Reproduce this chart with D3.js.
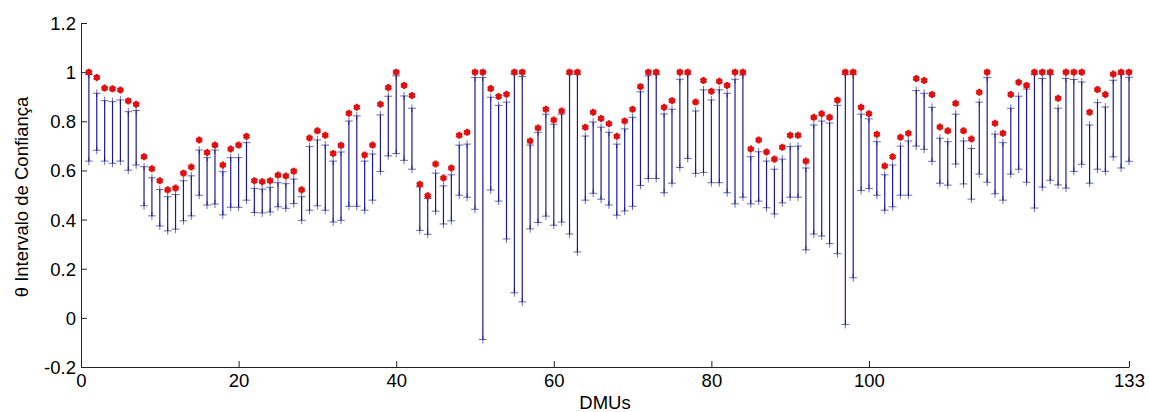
<!DOCTYPE html>
<html>
<head>
<meta charset="utf-8">
<script src="https://cdn.jsdelivr.net/npm/d3@7"></script>
<style>
  body { margin: 0; background: #fff; }
  svg text { font-family: Arial, "Liberation Sans", sans-serif; fill: #000; }
</style>
</head>
<body>
<div id="chart-area"></div>
<script>
// eficiencia (asterisco vermelho) e intervalo de confianca (azul), DMU 1..133
var theta = [1.0,0.978,0.935,0.932,0.927,0.883,0.869,0.656,0.607,0.558,
  0.521,0.528,0.589,0.614,0.724,0.673,0.703,0.622,0.687,0.703,
  0.739,0.558,0.554,0.558,0.581,0.577,0.597,0.521,0.732,0.761,
  0.743,0.669,0.702,0.833,0.857,0.663,0.703,0.869,0.937,1.0,
  0.946,0.905,0.544,0.497,0.626,0.569,0.610,0.743,0.755,1.0,
  1.0,0.933,0.901,0.910,1.0,1.0,0.720,0.773,0.849,0.805,
  0.842,1.0,1.0,0.776,0.837,0.811,0.790,0.739,0.801,0.849,
  0.941,1.0,1.0,0.857,0.884,1.0,1.0,0.878,0.966,0.922,
  0.963,0.946,1.0,1.0,0.687,0.724,0.675,0.646,0.694,0.743,
  0.743,0.638,0.816,0.831,0.816,0.886,1.0,1.0,0.857,0.831,
  0.747,0.618,0.656,0.735,0.751,0.974,0.966,0.909,0.777,0.761,
  0.873,0.761,0.728,0.918,1.0,0.792,0.751,0.909,0.959,0.946,
  1.0,1.0,1.0,0.894,1.0,1.0,1.0,0.837,0.929,0.909,
  0.992,1.0,1.0];

var upper = [0.990,0.914,0.884,0.880,0.887,0.839,0.844,0.615,0.570,0.522,
  0.493,0.502,0.558,0.578,0.683,0.652,0.683,0.595,0.652,0.652,
  0.713,0.527,0.524,0.531,0.550,0.546,0.565,0.493,0.697,0.724,
  0.703,0.638,0.675,0.801,0.822,0.638,0.667,0.826,0.902,0.985,
  0.903,0.853,0.533,0.486,0.589,0.537,0.582,0.703,0.707,0.978,
  0.978,0.898,0.865,0.878,0.992,0.982,0.703,0.755,0.829,0.788,
  0.829,0.992,0.990,0.740,0.797,0.776,0.755,0.707,0.769,0.816,
  0.920,0.985,0.990,0.830,0.849,0.971,0.990,0.842,0.928,0.887,
  0.928,0.914,0.971,0.988,0.656,0.676,0.638,0.605,0.646,0.697,
  0.699,0.610,0.785,0.801,0.793,0.865,0.990,0.990,0.829,0.810,
  0.717,0.582,0.622,0.699,0.720,0.925,0.914,0.857,0.731,0.717,
  0.829,0.720,0.689,0.878,0.978,0.748,0.713,0.853,0.902,0.931,
  0.990,0.974,0.990,0.853,0.974,0.970,0.960,0.785,0.876,0.858,
  0.967,0.990,0.979];

var lower = [0.638,0.682,0.638,0.629,0.638,0.601,0.622,0.456,0.415,0.374,
  0.354,0.361,0.395,0.415,0.499,0.459,0.463,0.419,0.450,0.450,
  0.479,0.429,0.427,0.431,0.452,0.446,0.465,0.397,0.438,0.456,
  0.438,0.390,0.397,0.454,0.454,0.438,0.479,0.596,0.659,0.669,
  0.641,0.605,0.356,0.340,0.434,0.382,0.395,0.499,0.491,0.442,
  -0.088,0.520,0.475,0.321,0.102,0.065,0.362,0.388,0.414,0.377,
  0.390,0.341,0.268,0.479,0.507,0.483,0.459,0.418,0.435,0.454,
  0.539,0.567,0.567,0.509,0.548,0.612,0.649,0.588,0.592,0.550,
  0.550,0.509,0.464,0.491,0.464,0.475,0.448,0.423,0.468,0.491,
  0.491,0.277,0.341,0.333,0.302,0.261,-0.027,0.163,0.518,0.526,
  0.499,0.438,0.452,0.499,0.499,0.699,0.686,0.637,0.548,0.540,
  0.626,0.545,0.483,0.585,0.552,0.505,0.479,0.585,0.605,0.552,
  0.447,0.532,0.560,0.541,0.528,0.596,0.625,0.548,0.605,0.596,
  0.655,0.610,0.637];

var xTicks = [0, 20, 40, 60, 80, 100, 133];
var yTicks = [-0.2, 0, 0.2, 0.4, 0.6, 0.8, 1, 1.2];

const widthinput = 1149;
const heightinput = 412;

var margin = { top: 23, right: 20, bottom: 45, left: 81 };
var width = widthinput - margin.left - margin.right,
    height = heightinput - margin.top - margin.bottom;

var svg = d3.select("#chart-area")
  .append("svg")
    .attr("width", widthinput)
    .attr("height", heightinput);

var g = svg.append("g")
    .attr("transform", "translate(" + margin.left + ", " + margin.top + ")");

var x = d3.scaleLinear().domain([0, 133]).range([0, 1048]);
var y = d3.scaleLinear().domain([-0.2, 1.2]).range([344, 0]);

var data = theta.map(function(t, i) {
  return { dmu: i + 1, theta: t, hi: upper[i], lo: lower[i] };
});

// eixos (ticks para dentro, sem caixa)
var xAxis = g.append("g")
  .attr("transform", "translate(0, " + y(-0.2) + ")")
  .call(d3.axisBottom(x).tickValues(xTicks).tickSizeInner(-6).tickSizeOuter(0).tickPadding(7)
    .tickFormat(d3.format("d")));

var yAxis = g.append("g")
  .call(d3.axisLeft(y).tickValues(yTicks).tickSizeInner(-6).tickSizeOuter(0).tickPadding(5)
    .tickFormat(function(d) { return String(+d.toFixed(1)); }));

g.selectAll(".domain").attr("stroke", "#222");
g.selectAll(".tick line").attr("stroke", "#222");
g.selectAll(".tick text").attr("font-size", "18.5px").attr("fill", "#111");
yAxis.selectAll(".tick text").attr("dy", "0.35em");

// hastes
g.selectAll(".stem")
  .data(data)
  .enter().append("line")
    .attr("class", "stem")
    .attr("x1", function(d) { return x(d.dmu); })
    .attr("x2", function(d) { return x(d.dmu); })
    .attr("y1", function(d) { return y(d.lo); })
    .attr("y2", function(d) { return y(d.hi); })
    .attr("stroke", "#1a1a9e")
    .attr("stroke-width", 1.2);

// marcadores azuis nas pontas
var plus = d3.symbol().type(d3.symbolPlus).size(22);

function ends(key) {
  g.selectAll(".m-" + key)
    .data(data)
    .enter().append("path")
      .attr("class", "m-" + key)
      .attr("transform", function(d) { return "translate(" + x(d.dmu) + "," + y(d[key]) + ")"; })
      .attr("d", plus)
      .attr("fill", "#08087e")
      .attr("stroke", "#08087e")
      .attr("stroke-width", 0.6);
}
ends("hi");
ends("lo");

// asteriscos vermelhos
var star = d3.symbol().type(d3.symbolAsterisk).size(34);
g.selectAll(".theta")
  .data(data)
  .enter().append("path")
    .attr("class", "theta")
    .attr("transform", function(d) { return "translate(" + x(d.dmu) + "," + y(d.theta) + ")"; })
    .attr("d", star)
    .attr("fill", "none")
    .attr("stroke", "#e01010")
    .attr("stroke-width", 2.4);
g.selectAll(".theta-c")
  .data(data)
  .enter().append("circle")
    .attr("cx", function(d) { return x(d.dmu); })
    .attr("cy", function(d) { return y(d.theta); })
    .attr("r", 2.6)
    .attr("fill", "#e01010");

// titulos
g.append("text")
  .attr("x", x(66.5))
  .attr("y", 386)
  .attr("font-size", "18.5px")
  .attr("text-anchor", "middle")
  .text("DMUs");

svg.append("text")
  .attr("transform", "translate(28, 197) rotate(-90)")
  .attr("font-size", "18.5px")
  .attr("text-anchor", "middle")
  .text("θ Intervalo de Confiança");
</script>
</body>
</html>
